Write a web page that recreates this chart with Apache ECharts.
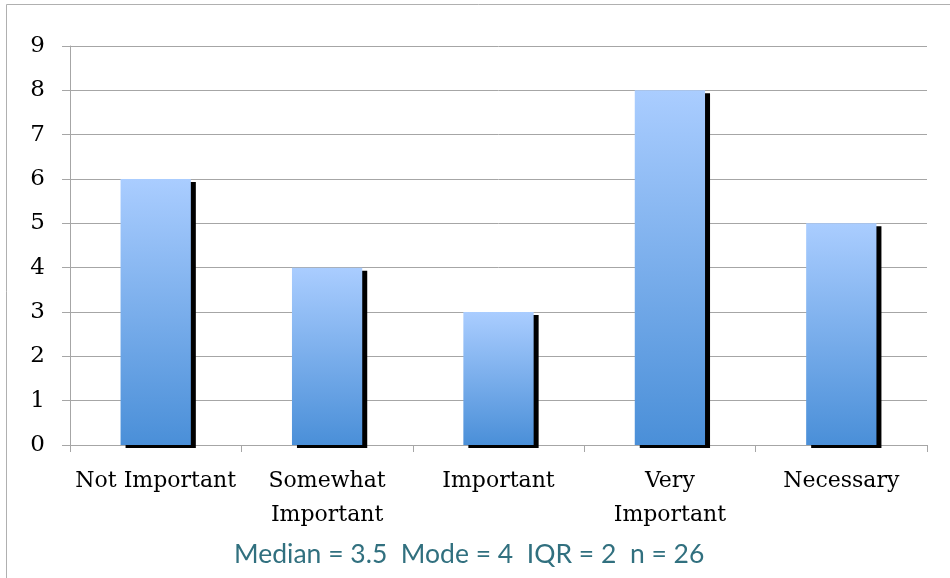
<!DOCTYPE html>
<html>
<head>
<meta charset="utf-8">
<script src="https://cdn.jsdelivr.net/npm/echarts@6/dist/echarts.min.js"></script>
<style>
  html, body { margin: 0; padding: 0; background: #fff; }
  #chart { width: 950px; height: 578px; }
</style>
</head>
<body>
<div id="chart"></div>
<script>
// Survey responses per importance level
const categories = ['Not Important', 'Somewhat\nImportant', 'Important', 'Very\nImportant', 'Necessary'];
const counts = [6, 4, 3, 8, 5];
const yTicks = { min: 0, max: 9, interval: 1 };
const summaryText = 'Median = 3.5  Mode = 4  IQR = 2  n = 26';

const chart = echarts.init(document.getElementById('chart'), null, { renderer: 'canvas' });

const axisGray = '#a6a6a6';
const serif = '"DejaVu Serif", "Liberation Serif", serif';

chart.setOption({
  animation: false,
  backgroundColor: '#ffffff',
  grid: { left: 70, right: 23, top: 46, bottom: 133, containLabel: false },
  xAxis: {
    type: 'category',
    data: categories,
    axisLine: { lineStyle: { color: axisGray, width: 1 } },
    axisTick: { show: true, length: 7, lineStyle: { color: axisGray } },
    axisLabel: {
      color: '#000',
      fontFamily: serif,
      fontSize: 22,
      lineHeight: 34,
      margin: 19,
      interval: 0
    }
  },
  yAxis: {
    type: 'value',
    min: yTicks.min,
    max: yTicks.max,
    interval: yTicks.interval,
    axisLine: { show: true, lineStyle: { color: axisGray, width: 1 } },
    axisTick: { show: true, length: 8, lineStyle: { color: axisGray } },
    splitLine: { show: true, lineStyle: { color: axisGray, width: 1 } },
    axisLabel: {
      color: '#000',
      fontFamily: serif,
      fontSize: 23,
      margin: 25
    }
  },
  series: [{
    type: 'bar',
    data: counts,
    barWidth: '41%',
    itemStyle: {
      color: new echarts.graphic.LinearGradient(0, 0, 0, 1, [
        { offset: 0, color: '#aacdff' },
        { offset: 1, color: '#4a8fd8' }
      ]),
      shadowColor: '#000000',
      shadowBlur: 0,
      shadowOffsetX: 5,
      shadowOffsetY: 3
    }
  }],
  graphic: [
    {
      type: 'rect',
      shape: { x: 6.5, y: 4.5, width: 960, height: 600 },
      style: { fill: 'none', stroke: '#b0b0b0', lineWidth: 1 },
      silent: true,
      z: -1
    },
    {
      type: 'text',
      left: 234,
      top: 541,
      style: {
        text: summaryText,
        fill: '#31707f',
        font: '26.5px Lato, "Open Sans", sans-serif'
      }
    }
  ]
});
</script>
</body>
</html>
